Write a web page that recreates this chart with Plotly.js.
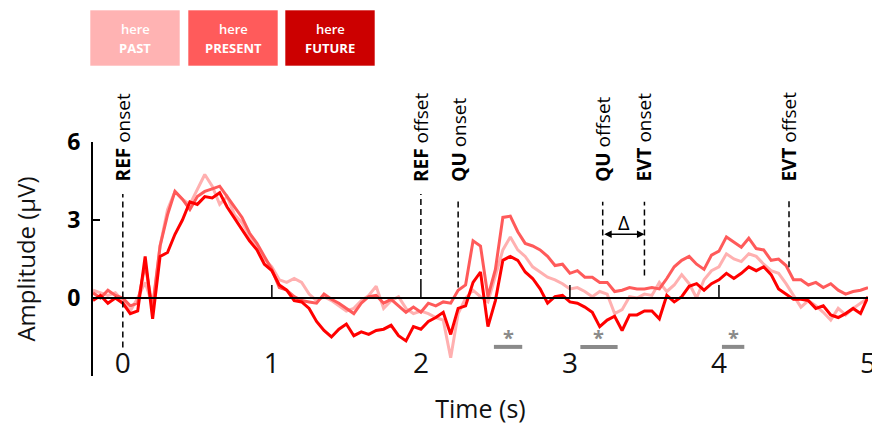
<!DOCTYPE html>
<html><head><meta charset="utf-8">
<script src="https://cdn.plot.ly/plotly-3.0.1.min.js"></script>
<style>html,body{margin:0;padding:0;background:#fff;} #chart{width:872px;height:425px;}</style>
</head><body><div id="chart"></div>
<script>
// ---- data ----
const time = [-0.2,-0.15,-0.1,-0.05,0,0.05,0.1,0.15,0.2,0.25,0.3,0.35,0.4,0.45,0.5,0.55,0.6,0.65,0.7,0.75,
0.8,0.85,0.9,0.95,1,1.05,1.1,1.15,1.2,1.25,1.3,1.35,1.4,1.45,1.5,1.55,1.6,1.65,1.7,1.75,
1.8,1.85,1.9,1.95,2,2.05,2.1,2.15,2.2,2.25,2.3,2.35,2.4,2.45,2.5,2.55,2.6,2.65,2.7,2.75,
2.8,2.85,2.9,2.95,3,3.05,3.1,3.15,3.2,3.25,3.3,3.35,3.4,3.45,3.5,3.55,3.6,3.65,3.7,3.75,
3.8,3.85,3.9,3.95,4,4.05,4.1,4.15,4.2,4.25,4.3,4.35,4.4,4.45,4.5,4.55,4.6,4.65,4.7,4.75,
4.8,4.85,4.9,4.95,5];
const past = [0.3,0.2,0.1,0.2,-0.1,-0.5,0.0,0.6,-0.3,2.0,3.4,4.1,3.8,3.6,4.2,4.75,4.3,3.6,3.9,3.2,
2.9,2.4,2.0,1.5,1.2,0.7,0.6,0.75,0.6,0.15,-0.1,0.05,-0.1,-0.3,-0.5,-0.4,-0.1,0.1,0.45,-0.4,
-0.1,0.05,-0.4,-0.6,-0.5,-0.6,-0.75,-0.85,-2.3,-0.6,0.0,0.3,0.05,-0.15,0.8,1.85,2.35,1.85,1.6,1.2,
1.0,0.8,0.7,0.55,0.35,0.4,0.25,0.05,0.25,0.15,-0.6,-0.45,0.05,0.0,0.15,0.1,0.6,0.25,0.5,0.9,
0.55,0.0,0.7,1.05,1.2,1.7,1.5,1.4,1.7,1.6,1.3,1.05,0.95,0.55,0.1,-0.35,-0.1,-0.3,-0.55,-0.85,
-0.4,-0.65,-0.4,-0.2,0.0];
const present = [0.2,0.0,0.3,0.1,0.0,-0.3,-0.2,1.3,-0.4,2.0,3.2,4.1,3.8,3.4,3.9,4.1,4.2,4.3,3.9,3.5,
3.1,2.5,2.1,1.6,1.1,0.4,0.3,0.05,-0.1,-0.15,-0.2,0.15,-0.05,-0.2,-0.4,-0.6,-0.2,0.05,0.1,-0.2,
-0.05,-0.3,-0.55,-0.35,-0.55,-0.2,-0.3,-0.15,-0.2,0.3,0.5,2.2,2.0,0.05,1.1,3.1,3.15,2.55,2.1,2.0,
1.85,1.6,1.25,1.3,0.95,1.05,0.8,0.8,0.6,0.6,0.25,0.3,0.4,0.35,0.35,0.4,0.35,0.75,1.2,1.45,
1.6,1.3,1.1,1.65,1.8,2.35,2.15,1.95,2.3,1.9,1.85,1.45,1.5,1.25,0.7,0.7,0.5,0.6,0.4,0.55,
0.3,0.15,0.25,0.3,0.4];
const future = [-0.1,0.1,-0.2,0.0,-0.2,-0.6,-0.5,1.6,-0.8,1.6,1.75,2.45,3.0,3.7,3.6,3.9,3.85,4.05,3.5,3.05,
2.6,2.2,1.85,1.3,1.05,0.5,0.3,-0.1,-0.15,-0.4,-0.9,-1.25,-1.5,-1.2,-1.0,-1.45,-1.3,-1.4,-1.25,-1.2,
-1.05,-1.45,-1.65,-1.1,-1.2,-0.9,-0.75,-0.55,-1.4,-0.4,-0.3,0.6,1.0,-1.1,-0.1,1.45,1.6,1.45,1.0,0.75,
0.35,-0.2,0.05,0.1,-0.15,-0.2,-0.35,-0.55,-1.1,-0.85,-0.7,-1.25,-0.65,-0.65,-0.5,-0.5,-0.8,0.1,-0.15,0.05,
0.45,0.55,0.3,0.55,0.7,0.95,0.75,0.95,1.2,1.05,1.2,0.9,0.35,0.15,-0.05,-0.05,-0.1,-0.4,-0.3,-0.65,
-0.75,-0.6,-0.4,-0.6,0.05];
const seriesNames = ['PAST','PRESENT','FUTURE'];
const legendPrefix = 'here';
const xTickVals = [0,1,2,3,4,5];
const xTickLabels = ['0','1','2','3','4','5'];
const yTickVals = [-3,0,3,6];
const yTickLabels = ['','0','3','6'];
const eventNames = ['REF','REF','QU','QU','EVT','EVT'];
const eventKinds = ['onset','offset','onset','offset','onset','offset'];
const eventTimes = [0,2,2.25,3.22,3.5,4.47];
const sigStart = [2.49,3.07,4.02];
const sigEnd = [2.68,3.32,4.17];
const deltaLabel = 'Δ';

// ---- styles / positions ----
const lineColors = ['#FFB0B0','#FF5A5A','#FF0000'];
const boxColors = ['#FFB3B3','#FF5B5B','#CC0000'];
const evTop = [4.0,4.0,3.8,3.7,3.7,3.85];
const evBottom = [-1.9,0.5,0.4,0.87,0.87,1.18];
const M = {l:93, r:4, t:142, b:49};
const W = 872, H = 425;
const pw = W - M.l - M.r, ph = H - M.t - M.b;
const px2x = p => (p - M.l) / pw;
const py2y = p => (H - M.b - p) / ph;
const FONT = 'Open Sans, Noto Sans, sans-serif';

const allSeries = [past, present, future];
const traces = allSeries.map((s, i) => ({
  type: 'scatter', mode: 'lines', x: time, y: s, name: seriesNames[i],
  line: {color: lineColors[i], width: 3}, hoverinfo: 'skip'
}));

const shapes = [];
const annotations = [];

// ticks on the zero line (interior only)
xTickVals.slice(1, -1).forEach(v => {
  shapes.push({type:'line', xref:'x', yref:'y', x0:v, x1:v, y0:0, y1:0.5, line:{color:'#000', width:1.5}});
});

// event lines and labels
eventTimes.forEach((t, i) => {
  shapes.push({type:'line', xref:'x', yref:'y', x0:t, x1:t, y0:evBottom[i], y1:evTop[i],
    line:{color:'#000', width:1.5, dash:'6px,4px'}});
  annotations.push({xref:'x', yref:'y', x:t, y:4.4, xanchor:'center', yanchor:'bottom',
    text:'<b>' + eventNames[i] + '</b> ' + eventKinds[i], textangle:-90, showarrow:false,
    font:{family:FONT, size:19, color:'#000'}});
});

// delta arrow between QU offset and EVT onset
annotations.push({xref:'x', yref:'y', axref:'x', ayref:'y', x:eventTimes[4], y:2.45, ax:eventTimes[3], ay:2.45,
  text:'', showarrow:true, arrowside:'end+start', arrowhead:2, arrowsize:1, arrowwidth:1.5, arrowcolor:'#000',
  standoff:0, startstandoff:0});
annotations.push({xref:'x', yref:'y', x:(eventTimes[3]+eventTimes[4])/2, y:2.9, text:deltaLabel, showarrow:false,
  font:{family:FONT, size:20, color:'#000'}});

// significance bars
sigStart.forEach((s, i) => {
  shapes.push({type:'line', xref:'x', yref:'y', x0:s, x1:sigEnd[i], y0:-1.88, y1:-1.88, line:{color:'#8a8a8a', width:4}});
  annotations.push({xref:'x', yref:'y', x:(s+sigEnd[i])/2, y:-1.5, text:'<b>*</b>', showarrow:false,
    font:{family:FONT, size:20, color:'#8a8a8a'}});
});

// legend boxes
const boxLeft = [90, 188, 285];
seriesNames.forEach((n, i) => {
  shapes.push({type:'rect', xref:'paper', yref:'paper', x0:px2x(boxLeft[i]), x1:px2x(boxLeft[i]+90),
    y0:py2y(66), y1:py2y(10), fillcolor:boxColors[i], line:{color:'rgba(255,255,255,0.6)', width:1}, layer:'above'});
  annotations.push({xref:'paper', yref:'paper', x:px2x(boxLeft[i]+45), y:py2y(29), text:legendPrefix,
    showarrow:false, xanchor:'center', yanchor:'middle', font:{family:FONT, size:13, color:'#fff', weight:600}});
  annotations.push({xref:'paper', yref:'paper', x:px2x(boxLeft[i]+45), y:py2y(48), text:'<b>' + n + '</b>',
    showarrow:false, xanchor:'center', yanchor:'middle', font:{family:FONT, size:13, color:'#fff'}});
});

const layout = {
  width: W, height: H, margin: M, paper_bgcolor:'#fff', plot_bgcolor:'#fff', showlegend:false,
  font: {family: FONT, color:'#000'},
  xaxis: {range:[-0.2, 5], anchor:'free', position: 3/9, showline:true, linecolor:'#000', linewidth:2,
    tickvals:xTickVals, ticktext:xTickLabels, ticks:'', ticklabelstandoff:40, ticklabeloverflow:'allow',
    showgrid:false, zeroline:false,
    tickfont:{family:FONT, size:28, color:'#111'},
    title:{text:'Time (s)', font:{family:FONT, size:25, color:'#111'}, standoff:26}},
  yaxis: {range:[-3, 6], showline:true, linecolor:'#000', linewidth:2, ticks:'inside', ticklen:7, tickwidth:2,
    tickcolor:'#000', tickvals:yTickVals, ticktext:yTickLabels, showgrid:false, zeroline:false, ticklabelstandoff:6,
    tickfont:{family:FONT, size:23, color:'#000', weight:'bold'},
    title:{text:'Amplitude (µV)', font:{family:FONT, size:24, color:'#111'}, standoff:25}},
  shapes: shapes, annotations: annotations
};

Plotly.newPlot('chart', traces, layout, {staticPlot:true, displayModeBar:false});
</script></body></html>
